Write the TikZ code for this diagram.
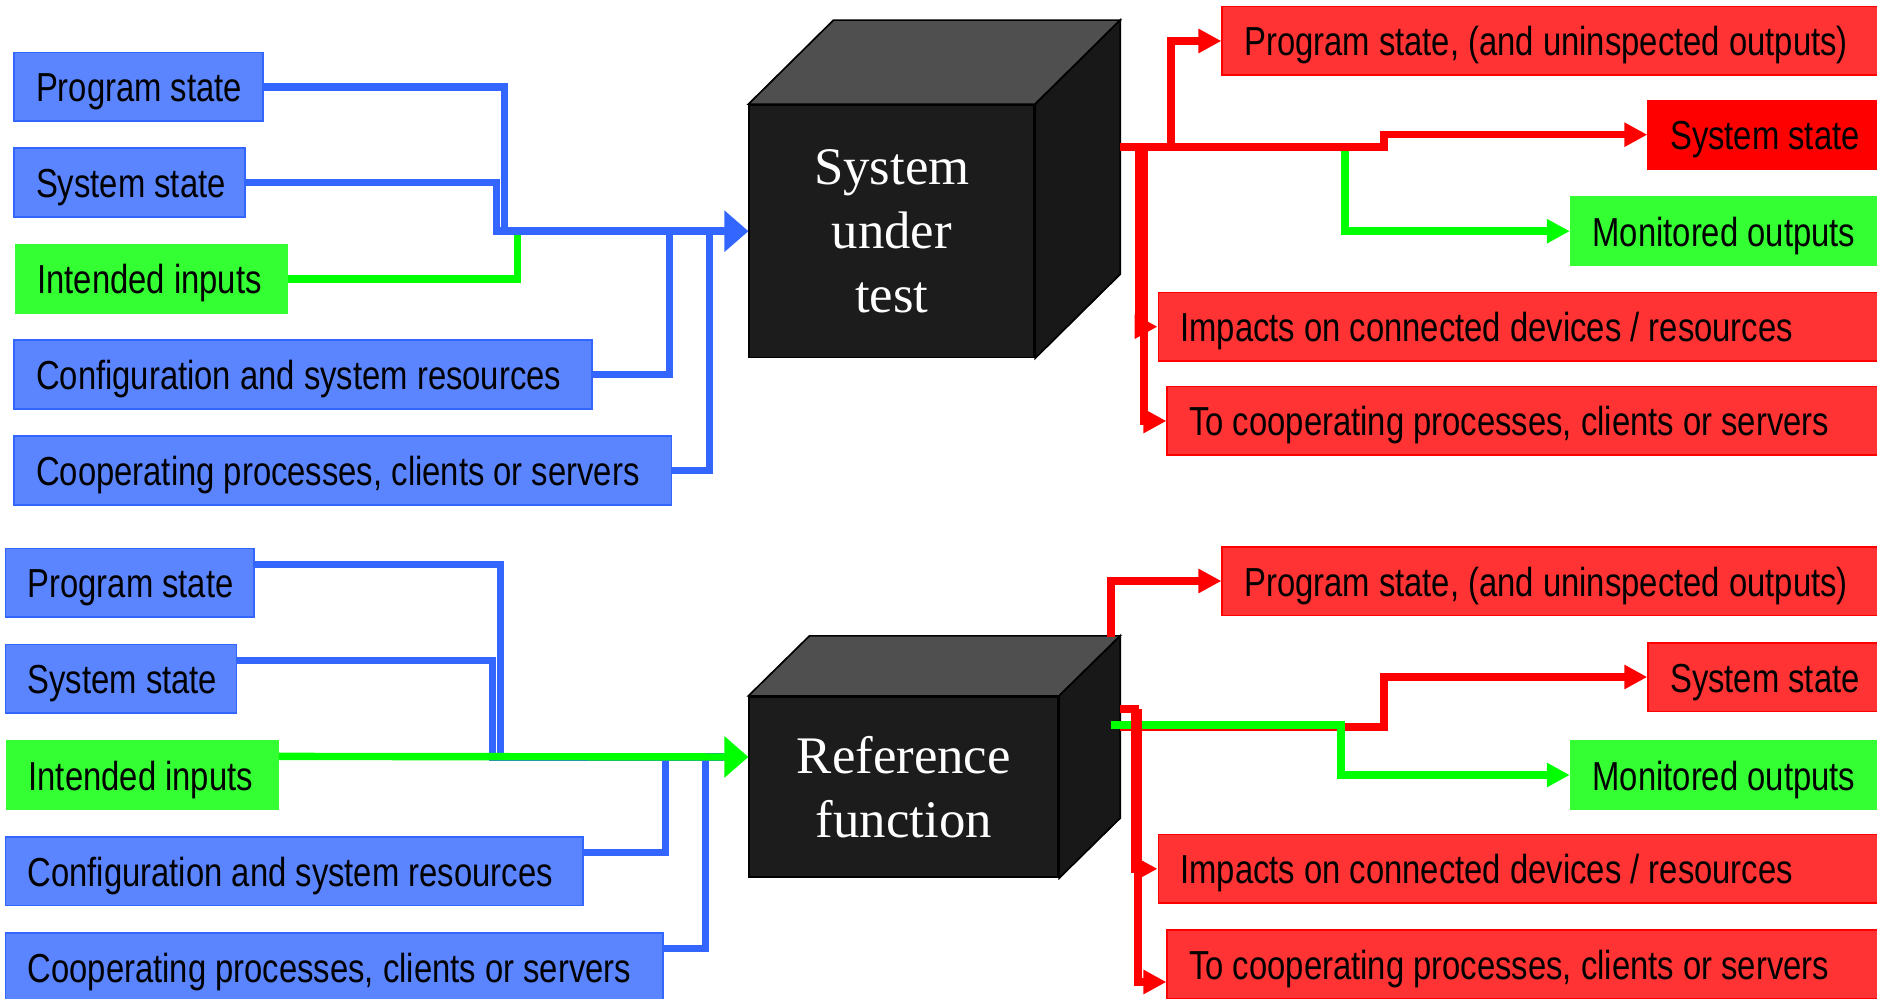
\documentclass[tikz,border=0pt]{standalone}
\usepackage{fontspec}
\setmainfont{Liberation Sans}[FakeStretch=0.81]
\newfontfamily\cubefont{Liberation Serif}
\usetikzlibrary{arrows.meta}
\definecolor{bluewire}{HTML}{3366FF}
\definecolor{bluebox}{HTML}{5B84FF}
\definecolor{greenwire}{HTML}{00FF00}
\definecolor{greenbox}{HTML}{33FF33}
\definecolor{redwire}{HTML}{FF0000}
\definecolor{redbox}{HTML}{FF3333}
\definecolor{cubefront}{HTML}{1C1C1C}
\definecolor{cubetop}{HTML}{4F4F4F}
\definecolor{cubeside}{HTML}{181818}
\newcommand{\lbl}{\fontsize{20.25pt}{24pt}\selectfont}
\newcommand{\cubelbl}{\cubefont\fontsize{26.4pt}{32pt}\selectfont}
% text set flush left in a box of fixed width
\newcommand{\boxlbl}[2]{\makebox[#1][l]{#2}}

\tikzset{
	inbox/.style={draw=bluewire, fill=bluebox, line width=0.8pt, anchor=west, minimum height=34.3pt,
		inner xsep=11pt, text height=15pt, text depth=0pt, font=\lbl},
	okbox/.style={inbox, draw=greenbox, fill=greenbox},
	outbox/.style={inbox, draw=redwire, fill=redbox},
	wire/.style={line width=3.7pt},
	inarrow/.style={-{Triangle[length=12pt,width=20pt]}},
	outarrow/.style={-{Triangle[length=11.5pt,width=11.5pt]}},
	boxface/.style={draw=black, line width=0.85pt, fill=cubefront, text=white, align=center, font=\cubelbl},
	cubeedge/.style={draw=black, line width=0.85pt}
}

\begin{document}
\begin{tikzpicture}[x=0.5pt, y=-0.5pt]
	\useasboundingbox (0,0) rectangle (1877,999);

	% upper half: system under test
	\node[boxface, minimum width=142.5pt, minimum height=126.2pt] (sut) at (891.8,231.2) {System\\under\\test};
	\draw[cubeedge, fill=cubetop] (sut.north west) -- ([shift={(85,-84)}]sut.north west)
		-- ([shift={(85,-84)}]sut.north east) -- (sut.north east) -- cycle;
	\draw[cubeedge, fill=cubeside] (sut.north east) -- ([shift={(85,-84)}]sut.north east)
		-- ([shift={(85,-84)}]sut.south east) -- (sut.south east) -- cycle;

	\node[inbox] (progA) at (13.3,86.9) {\boxlbl{102.3pt}{Program state}};
	\node[inbox] (sysA) at (13.3,182.5) {\boxlbl{93.5pt}{System state}};
	\node[okbox] (intA) at (14.5,279) {\boxlbl{113.7pt}{Intended inputs}};
	\node[inbox] (cfgA) at (13.3,374.5) {\boxlbl{266.8pt}{Configuration and system resources}};
	\node[inbox] (coopA) at (13.3,470.5) {\boxlbl{306.6pt}{Cooperating processes, clients or servers}};

	\coordinate (busA) at ([shift={(-252,0)}]sut.west);
	\draw[wire, greenwire] (intA.east) -| ([shift={(21,0)}]busA);
	\draw[wire, bluewire] (progA.east) -| ([shift={(8,0)}]busA);
	\draw[wire, bluewire] (cfgA.east) -| ([shift={(173,0)}]busA);
	\draw[wire, bluewire] (coopA.east) -| ([shift={(213,0)}]busA);
	\draw[wire, bluewire, inarrow] (sysA.east) -| (busA) -- (sut.west);

	\node[outbox] (oprogA) at (1221.4,41) {\boxlbl{305.8pt}{Program state, (and uninspected outputs)}};
	\node[outbox, fill=redwire] (osysA) at (1647.3,134.7) {\boxlbl{92.9pt}{System state}};
	\node[okbox] (omonA) at (1569.8,231.2) {\boxlbl{131.6pt}{Monitored outputs}};
	\node[outbox] (oimpA) at (1157.5,326.7) {\boxlbl{337.8pt}{Impacts on connected devices / resources}};
	\node[outbox] (ocoopA) at (1166.4,421) {\boxlbl{333.3pt}{To cooperating processes, clients or servers}};

	\coordinate (outA) at ([shift={(85,-84)}]sut.east);
	\draw[wire, greenwire, outarrow] ([shift={(225,0)}]outA) |- (omonA.west);
	\draw[wire, redwire, outarrow] (outA) -- ++(264,0) |- (osysA.west);
	\draw[wire, redwire, outarrow] ([shift={(51,0)}]outA) |- (oprogA.west);
	\draw[wire, redwire, outarrow] ([shift={(19,0)}]outA) |- (oimpA.west);
	\draw[wire, redwire, outarrow] ([shift={(24,0)}]outA) |- (ocoopA.west);

	% lower half: reference function
	\node[boxface, minimum width=154.5pt, minimum height=90.3pt] (ref) at (903.8,787) {Reference\\function};
	\draw[cubeedge, fill=cubetop] (ref.north west) -- ([shift={(61,-60)}]ref.north west)
		-- ([shift={(61,-60)}]ref.north east) -- (ref.north east) -- cycle;
	\draw[cubeedge, fill=cubeside] (ref.north east) -- ([shift={(61,-60)}]ref.north east)
		-- ([shift={(61,-60)}]ref.south east) -- (ref.south east) -- cycle;

	\node[inbox] (progB) at (4.8,582.8) {\boxlbl{102.3pt}{Program state}};
	\node[inbox] (sysB) at (4.8,678.8) {\boxlbl{93.5pt}{System state}};
	\node[okbox] (intB) at (5.8,775) {\boxlbl{113.7pt}{Intended inputs}};
	\node[inbox] (cfgB) at (4.8,871) {\boxlbl{266.8pt}{Configuration and system resources}};
	\node[inbox] (coopB) at (4.8,967) {\boxlbl{306.6pt}{Cooperating processes, clients or servers}};

	\coordinate (busB) at ([shift={(-256,-30)}]ref.west);
	\draw[wire, bluewire] ([yshift=9.3pt]progB.east) -| ([shift={(8,0)}]busB);
	\draw[wire, bluewire] ([yshift=9.3pt]cfgB.east) -| ([shift={(173,0)}]busB);
	\draw[wire, bluewire] ([yshift=9.3pt]coopB.east) -| ([shift={(213,0)}]busB);
	\draw[wire, bluewire] ([yshift=9.3pt]sysB.east) -| (busB) -- ++(232,0);
	\draw[wire, greenwire, inarrow] ([yshift=9.3pt]intB.east) -- ([yshift=15pt]ref.west);

	\node[outbox] (oprogB) at (1221.4,581) {\boxlbl{305.8pt}{Program state, (and uninspected outputs)}};
	\node[outbox] (osysB) at (1647.3,677) {\boxlbl{92.9pt}{System state}};
	\node[okbox] (omonB) at (1569.8,775) {\boxlbl{131.6pt}{Monitored outputs}};
	\node[outbox] (oimpB) at (1157.5,868.8) {\boxlbl{337.8pt}{Impacts on connected devices / resources}};
	\node[outbox] (ocoopB) at (1166.4,964.3) {\boxlbl{333.3pt}{To cooperating processes, clients or servers}};

	\coordinate (outB) at ([shift={(61,-60)}]ref.east);
	\draw[wire, redwire, outarrow] ([shift={(-9,-90)}]outB) |- (oprogB.west);
	\draw[wire, redwire, outarrow] (outB) -- ++(264,0) |- (osysB.west);
	\draw[wire, greenwire, outarrow] ([shift={(-9,-2)}]outB) -- ++(230,0) |- (omonB.west);
	\draw[wire, redwire, outarrow] ([shift={(0,-18)}]outB) -- ++(15,0) |- (oimpB.west);
	\draw[wire, redwire, outarrow] ([shift={(18,-18)}]outB) |- ([yshift=-8.85pt]ocoopB.west);
\end{tikzpicture}
\end{document}
